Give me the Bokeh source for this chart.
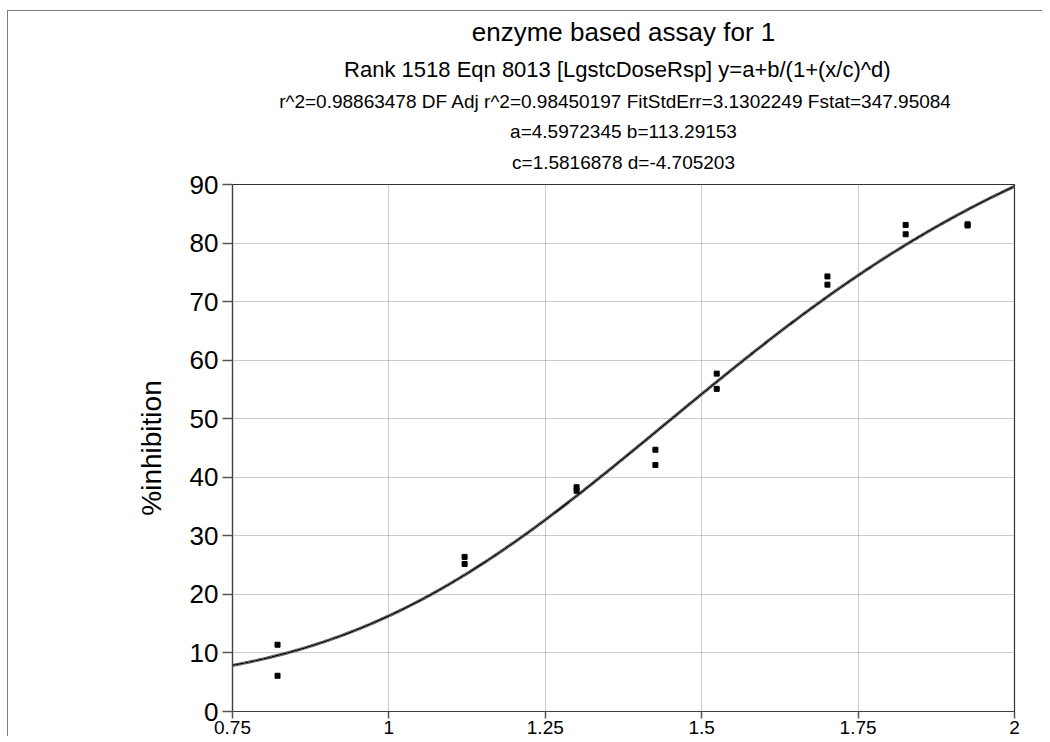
import numpy as np
from bokeh.plotting import figure
from bokeh.models import Title, FixedTicker, Range1d
from bokeh.embed import file_html
from bokeh.resources import INLINE

# ---- data ----
title_main = "enzyme based assay for 1"
title_lines = [
    "Rank 1518  Eqn 8013  [LgstcDoseRsp] y=a+b/(1+(x/c)^d)",
    "r^2=0.98863478  DF Adj r^2=0.98450197  FitStdErr=3.1302249  Fstat=347.95084",
    "a=4.5972345 b=113.29153",
    "c=1.5816878 d=-4.705203",
]
y_axis_label = "%inhibition"

x_ticks = [0.75, 1.0, 1.25, 1.5, 1.75, 2.0]
x_tick_labels = ["0.75", "1", "1.25", "1.5", "1.75", "2"]
y_ticks = [0, 10, 20, 30, 40, 50, 60, 70, 80, 90]

log_dose = [0.822, 0.822, 1.121, 1.121, 1.300, 1.300, 1.426, 1.426,
            1.524, 1.524, 1.701, 1.701, 1.826, 1.826, 1.925, 1.925]
inhibition = [11.4, 6.1, 26.4, 25.2, 38.3, 37.7, 44.7, 42.1,
              57.7, 55.1, 74.3, 72.9, 83.1, 81.5, 83.2, 83.0]

# fitted parameters shown in the chart header
fit_a = 4.5972345
fit_b = 113.29153
fit_c = 1.5816878
fit_d = -4.705203

x_lo, x_hi = 0.75, 2.0
y_lo, y_hi = 0, 90

FONT = "Liberation Sans"

p = figure(title=None, frame_width=782, frame_height=527,
           min_border_left=224, min_border_right=28,
           min_border_top=170, min_border_bottom=0,
           x_range=Range1d(x_lo, x_hi), y_range=Range1d(y_lo, y_hi),
           output_backend="svg", toolbar_location=None)
p.background_fill_color = "white"
p.border_fill_color = "white"
p.outline_line_color = "#333333"
p.outline_line_width = 1.2
p.margin = (10, 0, 0, 7)
p.styles = {"border-top": "1px solid #7f7f7f", "border-left": "1px solid #7f7f7f"}

# axes
p.xaxis.ticker = FixedTicker(ticks=x_ticks)
p.xaxis.major_label_overrides = {t: l for t, l in zip(x_ticks, x_tick_labels)}
p.yaxis.ticker = FixedTicker(ticks=y_ticks)
for ax in (p.xaxis, p.yaxis):
    ax.axis_line_color = "#404040"
    ax.axis_line_width = 1.2
    ax.major_tick_line_color = "#555555"
    ax.major_tick_line_width = 1.5
    ax.major_tick_in = 0
    ax.minor_tick_line_color = None
    ax.major_label_text_font = FONT
    ax.major_label_text_color = "black"
p.xaxis.major_tick_out = 7
p.xaxis.major_label_standoff = 2
p.xaxis.major_label_text_font_size = "19px"
p.yaxis.major_tick_out = 10
p.yaxis.major_label_standoff = 4
p.yaxis.major_label_text_font_size = "26px"
p.yaxis.axis_label = y_axis_label
p.yaxis.axis_label_text_font = FONT
p.yaxis.axis_label_text_font_size = "28px"
p.yaxis.axis_label_text_font_style = "normal"
p.yaxis.axis_label_text_color = "black"
p.yaxis.axis_label_standoff = 20

for g in (p.xgrid, p.ygrid):
    g.grid_line_color = "#999999"
    g.grid_line_dash = "1 1"
    g.grid_line_width = 1

# fitted curve (evaluated from the equation printed in the header)
xs = np.linspace(x_lo, x_hi, 400)
ys = fit_a + fit_b / (1.0 + (xs / fit_c) ** fit_d)
p.line(xs, ys, line_color="#666666", line_width=3.2)
p.line(xs, ys, line_color="white", line_width=1.2)
p.line(xs, ys, line_color="black", line_width=1.3)

# measured points
p.scatter(log_dose, inhibition, marker="square", size=5,
          fill_color="black", line_color="black")

# header lines: added nearest-to-frame first (first entry is a thin spacer)
header = [
    (" ", "1px", 5),
    (title_lines[3], "19px", 8),
    (title_lines[2], "19px", 8),
    (title_lines[1], "19px", 5),
    (title_lines[0], "22px", 9),
    (title_main, "26px", 7),
]
for text, size, standoff in header:
    p.add_layout(Title(text=text, align="center", text_font=FONT,
                       text_font_size=size, text_font_style="normal",
                       text_color="black", standoff=standoff), "above")

open("out.html", "w").write(file_html(p, INLINE))
